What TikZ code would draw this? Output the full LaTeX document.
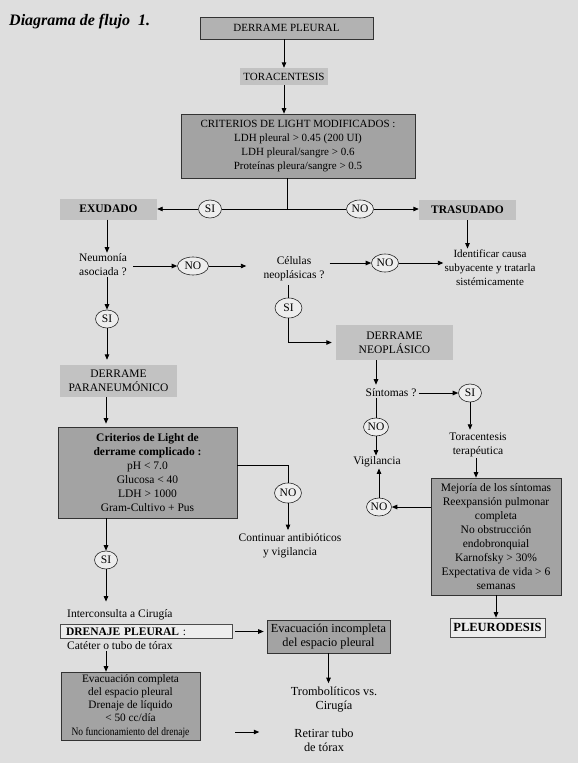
\documentclass[tikz,border=0pt]{standalone}
\usepackage{fontspec}
\usepackage{graphicx}
\setmainfont{Liberation Serif}
\usetikzlibrary{arrows.meta,shapes.geometric}
\definecolor{bgc}{gray}{0.87}
\definecolor{darkbox}{gray}{0.64}
\definecolor{midbox}{gray}{0.70}
\definecolor{lightbox}{gray}{0.76}
\definecolor{whitebox}{gray}{0.93}
\newcommand{\fs}{\fontsize{11.5}{14}\selectfont}
\newcommand{\fsm}{\fontsize{11}{13.8}\selectfont}
\newcommand{\fsl}{\fontsize{12.3}{14}\selectfont}
\tikzset{
  txt/.style={inner sep=1pt, align=center, font=\fs},
  boxbase/.style={rectangle, inner sep=0pt, align=center, font=\fs},
  darkb/.style={boxbase, fill=darkbox, draw=black!80, line width=0.6pt},
  midb/.style={boxbase, fill=midbox, draw=black!80, line width=0.6pt},
  lightb/.style={boxbase, fill=lightbox},
  whiteb/.style={boxbase, fill=whitebox, draw=black!70, line width=0.6pt},
  dec/.style={ellipse, draw=black!85, line width=0.6pt, fill=whitebox, inner sep=0pt,
    minimum width=23pt, minimum height=18pt, font=\fs},
  decno/.style={dec, minimum width=27pt},
  arr/.style={line width=0.9pt, -{Triangle[length=5.5pt,width=4.5pt]}},
  ln/.style={line width=0.9pt}
}
\begin{document}
\begin{tikzpicture}[x=1pt,y=-1pt]
\fill[bgc] (0,0) rectangle (578,763);
\useasboundingbox (0,0) rectangle (578,763);

% title
\node[anchor=west, inner sep=0pt, font=\fontsize{16}{18}\selectfont\bfseries\itshape] (title) at (9,22) {Diagrama de flujo\ \ 1.};

% top chain
\node[midb, minimum width=173pt, minimum height=22pt, font=\fsm] (dp) at (286.5,28) {DERRAME PLEURAL};
\node[lightb, minimum width=88pt, minimum height=17pt, font=\fsm] (tor) at (284,76.5) {TORACENTESIS};
\node[darkb, minimum width=234pt, minimum height=64pt, font=\fsm] (crit) at (298,146)
  {CRITERIOS DE LIGHT MODIFICADOS :\\LDH pleural > 0.45 (200 UI)\\LDH pleural/sangre > 0.6\\Proteínas pleura/sangre > 0.5};

\coordinate (br) at (287,209);
\node[dec] (e1) at (210,209) {SI};
\node[decno] (e2) at (360,209) {NO};
\node[lightb, minimum width=97pt, minimum height=21pt, font=\fs\bfseries] (exu) at (108.5,209) {EXUDADO};
\node[lightb, minimum width=97pt, minimum height=20pt, font=\fs\bfseries] (tras) at (467.5,210) {TRASUDADO};

% exudado branch
\node[txt] (neu) at (103,265) {Neumonía\\asociada ?};
\node[decno, minimum width=31pt] (e3) at (193,266) {NO};
\node[txt] (cel) at (294,268.5) {Células\\neoplásicas ?};
\node[decno] (e4) at (385,263) {NO};
\node[txt, font=\fsm] (ident) at (490,267.5) {Identificar causa\\subyacente y tratarla\\sistémicamente};

\node[dec] (e5) at (107,319) {SI};
\node[lightb, minimum width=117pt, minimum height=32pt] (para) at (118.5,381) {DERRAME\\PARANEUMÓNICO};

\node[decno, minimum height=20pt] (e6) at (288.5,308) {SI};
\node[lightb, minimum width=117pt, minimum height=35pt] (neo) at (394.5,342.5) {DERRAME\\NEOPLÁSICO};

% neoplasic branch
\node[txt] (sint) at (391,393) {Síntomas ?};
\node[dec] (e7) at (470,393) {SI};
\node[decno, minimum width=25pt] (e8) at (376,427) {NO};
\node[txt] (vig) at (377,462) {Vigilancia};
\node[txt] (torter) at (478,445) {Toracentesis\\terapéutica};
\node[darkb, minimum width=130pt, minimum height=117pt] (mej) at (496,536.5)
  {Mejoría de los síntomas\\Reexpansión pulmonar\\completa\\No obstrucción\\endobronquial\\Karnofsky > 30\%\\Expectativa de vida > 6\\semanas};
\node[decno, minimum width=25pt] (e9) at (379,507) {NO};
\node[whiteb, minimum width=95pt, minimum height=19pt, font=\fontsize{12.5}{14}\selectfont\bfseries] (pleu) at (497.5,627.5) {PLEURODESIS};

% paraneumonic branch
\node[darkb, minimum width=179pt, minimum height=91pt] (critc) at (147.5,472.5)
  {\textbf{Criterios de Light de}\\\textbf{derrame complicado :}\\pH < 7.0\\Glucosa < 40\\LDH > 1000\\Gram-Cultivo + Pus};
\node[decno, minimum height=20pt] (e10) at (288,493) {NO};
\node[txt] (cont) at (290,545.5) {Continuar antibióticos\\y vigilancia};
\node[dec] (e11) at (106,560) {SI};

\node[whiteb, minimum width=172pt, minimum height=13.5pt, text width=160pt, align=left] (dren) at (146,631.5) {\textbf{DRENAJE PLEURAL} :};
\node[txt, anchor=west] (inter) at (66,615) {Interconsulta a Cirugía};
\node[txt, anchor=west] (cat) at (66,646) {Catéter o tubo de tórax};

\node[darkb, minimum width=123pt, minimum height=33pt, font=\fsl] (evinc) at (328.5,636.5) {Evacuación incompleta\\del espacio pleural};
\node[txt, font=\fsl] (trom) at (334,700) {Trombolíticos vs.\\Cirugía};
\node[darkb, minimum width=139pt, minimum height=68pt, font=\fontsize{11.3}{13.2}\selectfont] (evcomp) at (130.5,706)
  {Evacuación completa\\del espacio pleural\\Drenaje de líquido\\< 50 cc/día\\\scalebox{0.84}[1]{No funcionamiento del drenaje}};
\node[txt, font=\fsl] (ret) at (324,740) {Retirar tubo\\de tórax};

% connectors: top
\draw[arr] (tor.north |- dp.south) -- (tor.north);
\draw[arr] (tor.south) -- (tor.south |- crit.north);
\draw[ln] (br |- crit.south) -- (br);
\draw[ln] (br) -- (e1.east);
\draw[arr] (e1.west) -- (exu.east);
\draw[ln] (br) -- (e2.west);
\draw[arr] (e2.east) -- (e2.east -| tras.west);

% exudado
\draw[arr] (e5.north |- exu.south) -- (e5.north |- neu.north);
\draw[arr, shorten <=5pt] (neu.east |- e3.west) -- (e3.west);
\draw[arr, shorten >=16pt] (e3.east) -- (e3.east -| cel.west);
\draw[arr, shorten <=4pt] (cel.east |- e4.west) -- (e4.west);
\draw[arr] (e4.east) -- (e4.east -| ident.west);
\draw[arr] (tras.south) -- (tras.south |- ident.north);
\draw[arr] (e5.north |- neu.south) -- (e5.north);
\draw[arr, shorten >=5pt] (e5.south) -- (e5.south |- para.north);

% neoplasic
\draw[ln, shorten <=3pt] (e6.north |- cel.south) -- (e6.north);
\draw[arr, shorten >=4pt] (e6.south) |- (neo.west);
\draw[arr, shorten >=3pt] (e8.north |- neo.south) -- (e8.north |- sint.north);
\draw[arr, shorten <=1pt] (sint.east) -- (e7.west);
\draw[ln] (e8.north |- sint.south) -- (e8.north);
\draw[arr] (e8.south) -- (e8.south |- vig.north);
\draw[arr, shorten >=2pt] (e7.south) -- (e7.south |- torter.north);
\draw[arr] (torter.south -| 476,0) -- (mej.north -| 476,0);
\draw[arr] (mej.west |- e9.east) -- (e9.east);
\draw[arr] (e9.north) -- (e9.north |- vig.south);
\draw[arr] (mej.south) -- (mej.south |- pleu.north);

% paraneumonic
\draw[arr, shorten >=3pt] (e11.north |- para.south) -- (e11.north |- critc.north);
\draw[ln] ([yshift=7.5pt]critc.east) -| (e10.north);
\draw[arr, shorten >=2pt] (e10.south) -- (e10.south |- cont.north);
\draw[arr] (e11.north |- critc.south) -- (e11.north);
\draw[arr, shorten >=7pt] (e11.south) -- (e11.south |- inter.north);
\draw[arr, shorten <=3pt, shorten >=3pt] (dren.east) -- (dren.east -| evinc.west);
\draw[arr] (e11.south |- cat.south) -- (e11.south |- evcomp.north);
\draw[arr, shorten >=3pt] (evinc.south) -- (evinc.south |- trom.north);
\draw[arr, shorten <=35pt, shorten >=34pt] ([yshift=8pt]evcomp.east |- ret.west) -- ([yshift=8pt]ret.west);
\end{tikzpicture}
\end{document}
